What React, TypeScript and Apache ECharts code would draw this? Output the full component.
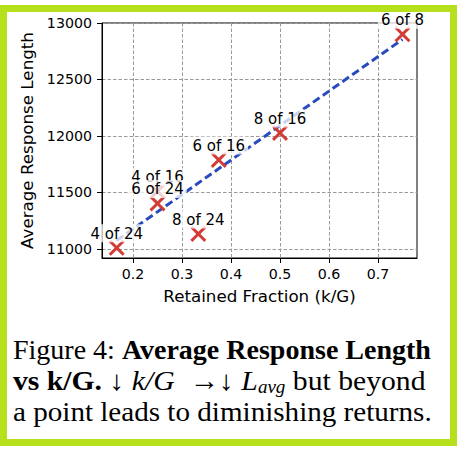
import React, { useEffect, useRef } from 'react';
import * as echarts from 'echarts';

// k/G retained fraction for each configuration
const fractions = [0.1667, 0.25, 0.25, 0.3333, 0.375, 0.5, 0.75];
// average response length
const lengths = [11010, 11510, 11403, 11133, 11788, 12027, 12900];
const pointLabels = ['4 of 24', '4 of 16', '6 of 24', '8 of 24', '6 of 16', '8 of 16', '6 of 8'];
// fitted trend line end points
const trendX = [0.1667, 0.75];
const trendY = [11075, 12855];
const xTicks = [0.2, 0.3, 0.4, 0.5, 0.6, 0.7];
const yTicks = [11000, 11500, 12000, 12500, 13000];

const XMARK = 'path://M13,0 L50,37 L87,0 L100,13 L63,50 L100,87 L87,100 L50,63 L13,100 L0,87 L37,50 L0,13 Z';
const SANS = 'DejaVu Sans';
const SERIF = 'Liberation Serif';

export default function App() {
  const ref = useRef<HTMLDivElement>(null);
  useEffect(() => {
    if (!ref.current) return;
    const chart = echarts.init(ref.current, null, { renderer: 'svg' });
    const capBase = { fontFamily: SERIF, fontSize: 28, lineHeight: 31, fill: '#000' };
    const rich = {
      r: { ...capBase },
      b: { ...capBase, fontWeight: 'bold' },
      i: { ...capBase, fontStyle: 'italic' },
      sub: { fontFamily: SERIF, fontSize: 18, lineHeight: 18, fontStyle: 'italic', verticalAlign: 'bottom', fill: '#000' },
    };
    const capLine = (text: string, y: number, scaleX: number) => ({
      type: 'text', silent: true, z: 10, x: 13, y, scaleX, originX: 0, originY: 0,
      style: { ...capBase, verticalAlign: 'top', align: 'left', text, rich },
    });
    chart.setOption({
      animation: false,
      grid: {
        left: 102, top: 23, right: 45, bottom: 194,
        containLabel: false, outerBoundsMode: 'none',
        show: true, borderColor: '#000', borderWidth: 1, backgroundColor: 'transparent',
      },
      xAxis: {
        type: 'value', min: 0.1367, max: 0.7796,
        name: 'Retained Fraction (k/G)', nameLocation: 'middle', nameGap: 29,
        nameTextStyle: { fontFamily: SANS, fontSize: 16.7, color: '#000' },
        axisLine: { show: true, lineStyle: { color: '#000', width: 1 } },
        axisTick: { show: true, length: 5, lineStyle: { color: '#000' }, customValues: xTicks },
        axisLabel: { fontFamily: SANS, fontSize: 14.2, color: '#000', margin: 9, customValues: xTicks,
          formatter: (v: number) => v.toFixed(1) },
        splitLine: { show: true, lineStyle: { color: '#999999', type: [3.5, 2], width: 1 } },
      },
      yAxis: {
        type: 'value', min: 10920, max: 13000,
        name: 'Average Response Length', nameLocation: 'middle', nameGap: 57,
        nameTextStyle: { fontFamily: SANS, fontSize: 16.7, color: '#000' },
        axisLine: { show: true, lineStyle: { color: '#000', width: 1 } },
        axisTick: { show: true, length: 5, lineStyle: { color: '#000' }, customValues: yTicks },
        axisLabel: { fontFamily: SANS, fontSize: 14.2, color: '#000', margin: 10, customValues: yTicks,
          formatter: (v: number) => String(v) },
        splitLine: { show: true, lineStyle: { color: '#999999', type: [3.5, 2], width: 1 } },
      },
      series: [
        {
          type: 'line', z: 2, silent: true, symbol: 'none',
          data: trendX.map((x, i) => [x, trendY[i]]),
          lineStyle: { color: '#2a4bbf', width: 3, type: [8, 4] },
        },
        {
          type: 'scatter', z: 3, silent: true, symbol: XMARK, symbolSize: 16,
          data: fractions.map((x, i) => [x, lengths[i]]),
          itemStyle: { color: '#d33b36', opacity: 1 },
        },
        {
          type: 'scatter', z: 5, silent: true, symbolSize: 1,
          data: fractions.map((x, i) => [x, lengths[i], pointLabels[i]]),
          itemStyle: { color: 'rgba(0,0,0,0)', opacity: 1 },
          label: {
            show: true, position: 'top', distance: 5,
            formatter: (p: any) => p.data[2],
            fontFamily: SANS, fontSize: 15, color: '#000',
            backgroundColor: 'rgba(255,255,255,0.75)', padding: [2, 3, 1, 3],
          },
        },
      ],
      graphic: [
        {
          type: 'rect', silent: true, z: 10,
          shape: { x: 3.5, y: 8.5, width: 450, height: 434 },
          style: { fill: 'none', stroke: '#b6e01b', lineWidth: 7 },
        },
        capLine('{r|Figure 4: }{b|Average Response Length}', 334, 1),
        capLine('{b|vs k/G.}{r| ↓ }{i|k/G}{r|  →↓ }{i|L}{sub|avg}{r| but beyond}', 365, 1.06),
        capLine('{r|a point leads to diminishing returns.}', 396, 1.04),
      ],
    });
    return () => chart.dispose();
  }, []);
  return <div ref={ref} style={{ position: 'absolute', left: 0, top: 0, width: 462, height: 452 }} />;
}
